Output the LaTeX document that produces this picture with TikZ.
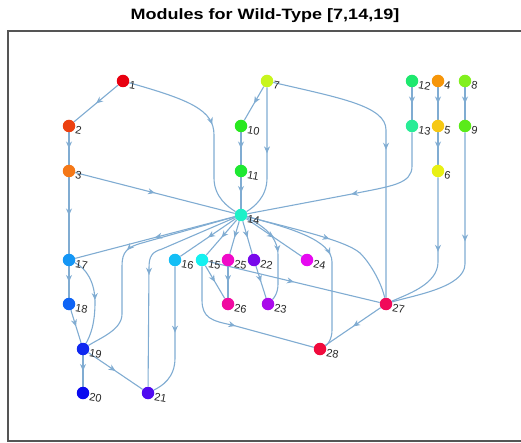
\documentclass[tikz,border=0pt]{standalone}
\usepackage{fontspec}
\setmainfont{Liberation Sans}
\usetikzlibrary{arrows.meta,decorations.markings}
\pgfdeclarelayer{background}
\pgfsetlayers{background,main}

\definecolor{edgec}{RGB}{128,172,210}
\definecolor{framec}{RGB}{85,85,85}
\definecolor{c1}{RGB}{232,0,16}
\definecolor{c2}{RGB}{236,64,16}
\definecolor{c3}{RGB}{244,120,24}
\definecolor{c4}{RGB}{246,150,10}
\definecolor{c5}{RGB}{246,200,20}
\definecolor{c6}{RGB}{232,240,20}
\definecolor{c7}{RGB}{200,245,30}
\definecolor{c8}{RGB}{130,240,30}
\definecolor{c9}{RGB}{90,235,25}
\definecolor{c10}{RGB}{40,232,30}
\definecolor{c11}{RGB}{30,232,50}
\definecolor{c12}{RGB}{30,232,110}
\definecolor{c13}{RGB}{40,236,150}
\definecolor{c14}{RGB}{30,240,200}
\definecolor{c15}{RGB}{20,240,240}
\definecolor{c16}{RGB}{20,190,245}
\definecolor{c17}{RGB}{20,150,245}
\definecolor{c18}{RGB}{15,100,245}
\definecolor{c19}{RGB}{15,40,240}
\definecolor{c20}{RGB}{10,10,240}
\definecolor{c21}{RGB}{80,10,240}
\definecolor{c22}{RGB}{120,10,235}
\definecolor{c23}{RGB}{170,10,235}
\definecolor{c24}{RGB}{230,10,240}
\definecolor{c25}{RGB}{240,10,200}
\definecolor{c26}{RGB}{240,10,160}
\definecolor{c27}{RGB}{240,10,90}
\definecolor{c28}{RGB}{240,10,60}

\tikzset{
  vtx/.style={circle, fill=#1, draw=none, minimum size=12.5pt, inner sep=0pt},
  lbl/.style={font=\fontsize{11}{12}\selectfont, text=black!85, inner sep=0.5pt,
              rotate=-10, yshift=-4pt},
  edge/.style={draw=edgec, line width=1.1pt, postaction={decorate},
    decoration={markings, mark=at position 0.5 with
      {\arrow{Stealth[length=7pt,width=6pt,inset=2.2pt,color=edgec]}}}},
}

\newcommand{\vx}[3]{\node[vtx=c#1, label={[lbl]east:#1}] (n#1) at (#2,#3) {};}

\begin{document}
\begin{tikzpicture}[x=1pt,y=-1pt]
\useasboundingbox (0,0) rectangle (521,443);

% title and axes frame
\node[font=\bfseries\fontsize{15}{17}\selectfont] (title) at (265,16)
  {\scalebox{1.2}[1]{Modules for Wild-Type [7,14,19]}};
\draw[framec, line width=1.2pt] (521,31) -- (8,31) -- (8,441) -- (521,441);

% vertices, layer by layer
\vx{1}{123}{81}
\vx{7}{267}{81}
\vx{12}{412}{81}
\vx{4}{438}{81}
\vx{8}{465}{81}
\vx{2}{69}{126}
\vx{10}{241}{126}
\vx{13}{412}{126}
\vx{5}{438}{126}
\vx{9}{465}{126}
\vx{3}{69}{171}
\vx{11}{241}{171}
\vx{6}{438}{171}
\vx{14}{241}{215}
\vx{17}{69}{260}
\vx{16}{175}{260}
\vx{15}{202}{260}
\vx{25}{228}{260}
\vx{22}{254}{260}
\vx{24}{307}{260}
\vx{18}{69}{304}
\vx{26}{228}{304}
\vx{23}{268}{304}
\vx{27}{386}{304}
\vx{19}{83}{349}
\vx{28}{320}{349}
\vx{20}{83}{393}
\vx{21}{148}{393}

\begin{pgfonlayer}{background}
% straight edges
\draw[edge] (n1) -- (n2);
\draw[edge] (n2) -- (n3);
\draw[edge] (n3) -- (n14);
\draw[edge] (n3) -- (n17);
\draw[edge] (n7) -- (n10);
\draw[edge] (n10) -- (n11);
\draw[edge] (n11) -- (n14);
\draw[edge] (n12) -- (n13);
\draw[edge] (n4) -- (n5);
\draw[edge] (n5) -- (n6);
\draw[edge] (n8) -- (n9);
\draw[edge] (n14) -- (n17);
\draw[edge] (n14) -- (n16);
\draw[edge] (n14) -- (n15);
\draw[edge] (n14) -- (n25);
\draw[edge] (n14) -- (n22);
\draw[edge] (n14) -- (n24);
\draw[edge] (n17) -- (n18);
\draw[edge] (n18) -- (n19);
\draw[edge] (n19) -- (n20);
\draw[edge] (n19) -- (n21);
\draw[edge] (n15) -- (n26);
\draw[edge] (n15) -- (n27);
\draw[edge] (n25) -- (n26);
\draw[edge] (n22) -- (n23);
\draw[edge] (n27) -- (n28);

% routed edges
\draw[edge] (n1) .. controls (190,100) and (214,110) .. (214,135) -- (214,178)
  .. controls (214,197) and (228,207) .. (n14);
\draw[edge] (n7) -- (267,178) .. controls (267,197) and (254,207) .. (n14);
\draw[edge] (n7) .. controls (340,98) and (386,106) .. (386,130) -- (n27);
\draw[edge] (n13) -- (412,166) .. controls (412,184) and (392,186) .. (352,194) -- (n14);
\draw[edge] (n6) -- (438,262) .. controls (438,285) and (405,295) .. (n27);
\draw[edge] (n9) -- (465,264) .. controls (465,288) and (410,296) .. (n27);
\draw[edge] (n14) -- (142,243) .. controls (127,247) and (122,252) .. (122,266)
  -- (122,314) .. controls (122,330) and (100,338) .. (n19);
\draw[edge] (n14) -- (162,249) .. controls (152,252) and (149,256) .. (149,268) -- (n21);
\draw[edge] (n16) -- (175,358) .. controls (175,378) and (162,386) .. (n21);
\draw[edge] (n17) .. controls (86,268) and (95,282) .. (95,302)
  .. controls (95,325) and (90,336) .. (n19);
\draw[edge] (n15) -- (202,300) .. controls (202,318) and (212,321) .. (232,325) -- (n28);
\draw[edge] (n14) .. controls (262,225) and (278,236) .. (278,255) -- (278,284)
  .. controls (278,294) and (273,299) .. (n23);
\draw[edge] (n14) .. controls (290,228) and (332,240) .. (332,262) -- (332,330)
  .. controls (332,340) and (327,345) .. (n28);
\draw[edge] (n14) .. controls (290,228) and (345,240) .. (360,253)
  .. controls (372,265) and (382,285) .. (n27);
\end{pgfonlayer}
\end{tikzpicture}
\end{document}
